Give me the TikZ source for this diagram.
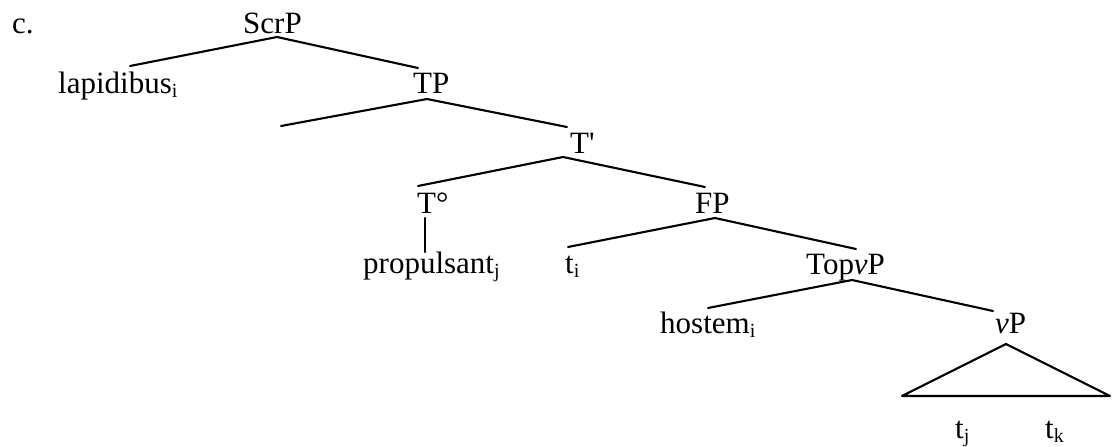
\documentclass[tikz,border=0pt]{standalone}
\usepackage{fontspec}
\setmainfont{Liberation Serif}[Ligatures=TeXOff]
\newcommand{\lsub}[1]{\raisebox{-0.13em}{\fontsize{20}{20}\selectfont #1}}
\begin{document}
\begin{tikzpicture}[x=1pt,y=-1pt,
  lbl/.style={anchor=base west, inner sep=0pt, font=\fontsize{31}{36}\selectfont},
  br/.style={line width=2.1pt, line cap=round, line join=round}]
\useasboundingbox (0,0) rectangle (1112,447);
% labels
\node[lbl] (c) at (12,33) {c.};
\node[lbl] (scrp) at (243,33) {ScrP};
\node[lbl] (lap) at (58,93) {lapidibus\lsub{i}};
\node[lbl] (tp) at (413,93) {TP};
\node[lbl] (tbar) at (570,153) {T'};
\node[lbl] (tdeg) at (417,213) {T°};
\node[lbl] (prop) at (363,273) {propulsant\lsub{j}};
\node[lbl] (fp) at (695,213) {FP};
\node[lbl] (ti) at (565,273) {t\lsub{i}};
\node[lbl] (topvp) at (806,274) {Top\textit{v}P};
\node[lbl] (host) at (660,333) {hostem\lsub{i}};
\node[lbl] (vp) at (995,333) {\textit{v}P};
\node[lbl] (tj) at (955,438) {t\lsub{j}};
\node[lbl] (tk) at (1045,438) {t\lsub{k}};
% branch points
\coordinate (a1) at (277,37);
\coordinate (a1l) at (130,66);
\coordinate (a1r) at (418,68);
\coordinate (a2) at (427,99);
\coordinate (a2l) at (281,126);
\coordinate (a2r) at (567,127);
\coordinate (a3) at (563,157);
\coordinate (a3l) at (418,186);
\coordinate (a3r) at (705,187);
\coordinate (v1) at (425,218);
\coordinate (v2) at (425,252);
\coordinate (a4) at (715,218);
\coordinate (a4l) at (568,247);
\coordinate (a4r) at (856,249);
\coordinate (a5) at (852,280);
\coordinate (a5l) at (708,308);
\coordinate (a5r) at (993,311);
\coordinate (tr1) at (1006,344);
\coordinate (tr2) at (902,396);
\coordinate (tr3) at (1110,396);
% branches
\draw[br] (a1l) -- (a1) -- (a1r);
\draw[br] (a2l) -- (a2) -- (a2r);
\draw[br] (a3l) -- (a3) -- (a3r);
\draw[br] (v1) -- (v2);
\draw[br] (a4l) -- (a4) -- (a4r);
\draw[br] (a5l) -- (a5) -- (a5r);
\draw[br] (tr1) -- (tr2) -- (tr3) -- cycle;
\end{tikzpicture}
\end{document}
